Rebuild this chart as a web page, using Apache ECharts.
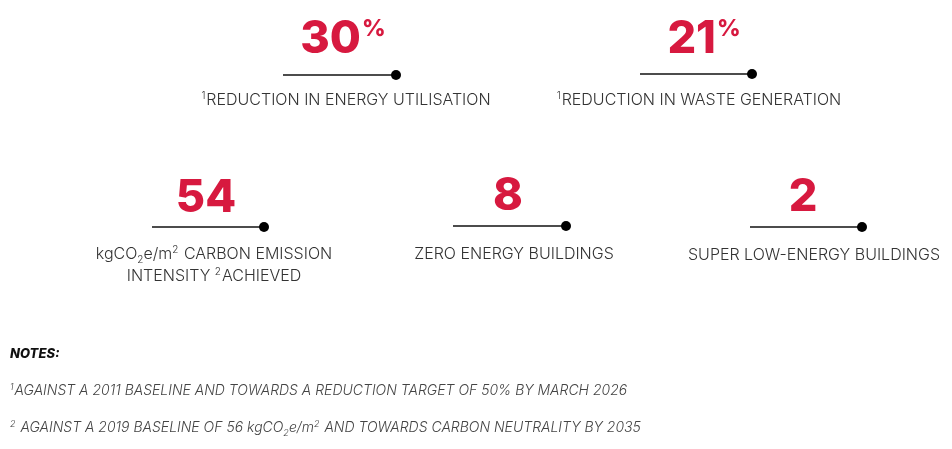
<!DOCTYPE html>
<html>
<head>
<meta charset="utf-8">
<script src="https://cdn.jsdelivr.net/npm/echarts@6/dist/echarts.min.js"></script>
<style>
html,body{margin:0;padding:0;background:#fff;}
#main{width:952px;height:449px;}
</style>
</head>
<body>
<div id="main"></div>
<script>
// 指标数值
var statValues = [30, 21, 54, 8, 2];
// 数值单位
var statUnits = ['%', '%', '', '', ''];
// 指标说明（富文本标记上下标）
var statLabels = [
    '{sup|1}REDUCTION IN ENERGY UTILISATION',
    '{sup|1}REDUCTION IN WASTE GENERATION',
    'kgCO{sub|2}e/m{sup|2} CARBON EMISSION\nINTENSITY {sup|2}ACHIEVED',
    'ZERO ENERGY BUILDINGS',
    'SUPER LOW-ENERGY BUILDINGS'
];
// 注释
var noteTitle = 'NOTES:';
var notes = [
    '{sup|1}AGAINST A 2011 BASELINE AND TOWARDS A REDUCTION TARGET OF 50% BY MARCH 2026',
    '{sup|2} AGAINST A 2019 BASELINE OF 56 kgCO{sub|2}e/m{sup|2} AND TOWARDS CARBON NEUTRALITY BY 2035'
];

/*版式：线段起止、数字中心、说明位置*/
var layout = [
    {x0: 283, x1: 396, lineY: 75, numX: 343, numY: 39, labelX: 346, labelY: 100},
    {x0: 640, x1: 752, lineY: 74, numX: 704, numY: 39, labelX: 699, labelY: 100},
    {x0: 152, x1: 264, lineY: 227, numX: 206, numY: 198, labelX: 214, labelY: 254},
    {x0: 453, x1: 566, lineY: 226, numX: 508, numY: 196, labelX: 514, labelY: 254},
    {x0: 750, x1: 862, lineY: 227, numX: 803, numY: 197, labelX: 814, labelY: 255}
];

var RED = '#d7193f';
var TEXT = '#333333';
var NOTE = '#444444';
var NUM_FONT = 'Inter';
var LABEL_FONT = 'Inter';

var labelRich = {
    t: {fontSize: 16, fontWeight: 300, fontFamily: LABEL_FONT, fill: TEXT, lineHeight: 22, verticalAlign: 'middle'},
    sup: {fontSize: 10, fontWeight: 300, fontFamily: LABEL_FONT, fill: TEXT, verticalAlign: 'top', padding: [2, 1, 0, 0]},
    sub: {fontSize: 10, fontWeight: 300, fontFamily: LABEL_FONT, fill: TEXT, verticalAlign: 'bottom'}
};

var noteRich = {
    t: {fontSize: 14, fontStyle: 'italic', fontWeight: 300, fontFamily: LABEL_FONT, fill: NOTE, lineHeight: 20, verticalAlign: 'middle'},
    sup: {fontSize: 9, fontStyle: 'italic', fontWeight: 300, fontFamily: LABEL_FONT, fill: NOTE, verticalAlign: 'top', padding: [2, 1, 0, 0]},
    sub: {fontSize: 9, fontStyle: 'italic', fontWeight: 300, fontFamily: LABEL_FONT, fill: NOTE, verticalAlign: 'bottom'}
};

function wrapPlain(str) {
    // 把普通文字包进 t 样式
    return str.split('\n').map(function (line) {
        return line.replace(/(^|\})([^{}]+)(?=\{|$)/g, function (m, p, s) {
            return p + '{t|' + s + '}';
        });
    }).join('\n');
}

var chart = echarts.init(document.getElementById('main'));

var option = {
    backgroundColor: '#ffffff',
    animation: false,
    grid: {left: 0, right: 0, top: 0, bottom: 0},
    xAxis: {type: 'value', min: 0, max: 952, show: false},
    yAxis: {type: 'value', min: 0, max: 449, inverse: true, show: false},
    series: [{
        type: 'custom',
        coordinateSystem: 'cartesian2d',
        data: statValues.map(function (v, i) { return [i, v]; }),
        renderItem: function (params, api) {
            var i = api.value(0);
            var L = layout[i];
            var p0 = api.coord([L.x0, L.lineY]);
            var p1 = api.coord([L.x1, L.lineY]);
            var pn = api.coord([L.numX, L.numY]);
            var pl = api.coord([L.labelX, L.labelY]);
            var numText = '{n|' + statValues[i] + '}' + (statUnits[i] ? '{u|' + statUnits[i] + '}' : '');
            return {
                type: 'group',
                children: [
                    {
                        type: 'line',
                        shape: {x1: p0[0], y1: p0[1], x2: p1[0], y2: p1[1]},
                        style: {stroke: '#111', lineWidth: 1.5}
                    },
                    {
                        type: 'circle',
                        shape: {cx: p1[0], cy: p1[1], r: 5},
                        style: {fill: '#000'}
                    },
                    {
                        type: 'text',
                        x: pn[0], y: pn[1],
                        style: {
                            text: numText,
                            align: 'center', verticalAlign: 'middle',
                            rich: {
                                n: {fontSize: 45, fontWeight: 800, fontFamily: NUM_FONT, fill: RED, lineHeight: 48, verticalAlign: 'middle'},
                                u: {fontSize: 23, fontWeight: 800, fontFamily: NUM_FONT, fill: RED, verticalAlign: 'top', padding: [3, 0, 0, 1]}
                            }
                        }
                    },
                    {
                        type: 'text',
                        x: pl[0],
                        y: i === 2 ? pl[1] - 11 : pl[1],
                        style: {
                            text: wrapPlain(statLabels[i]),
                            align: 'center', verticalAlign: i === 2 ? 'top' : 'middle',
                            rich: labelRich
                        }
                    }
                ]
            };
        }
    }],
    graphic: [
        {
            type: 'text', left: 10, top: 348,
            style: {text: noteTitle, font: 'italic 800 13px Inter', fill: '#111'}
        },
        {
            type: 'text', left: 10, top: 383,
            style: {text: wrapPlain(notes[0]), rich: noteRich}
        },
        {
            type: 'text', left: 10, top: 420,
            style: {text: wrapPlain(notes[1]), rich: noteRich}
        }
    ]
};

chart.setOption(option);
window.addEventListener('resize', function () {
    chart.resize();
});
</script>
</body>
</html>
